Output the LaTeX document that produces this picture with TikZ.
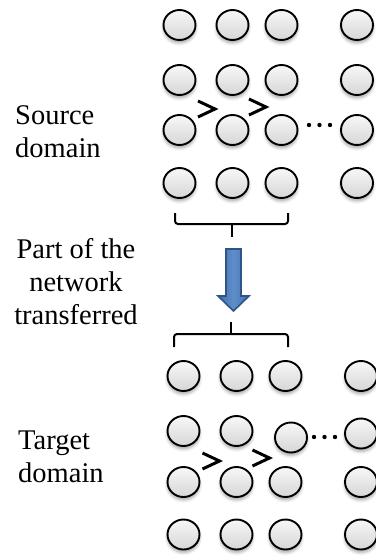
\documentclass[tikz,border=0pt]{standalone}
\usepackage{fontspec}
\setmainfont{Liberation Serif}
\usetikzlibrary{shapes.geometric,shadows.blur}

\definecolor{arrowfill}{HTML}{4270AC}
\definecolor{arrowlight}{HTML}{5F8FCB}
\definecolor{arrowline}{HTML}{2F5487}

\tikzset{
  unit/.style={ellipse, draw, line width=1.9pt, minimum width=32pt,
    minimum height=30pt, inner sep=0pt, top color=gray!6, bottom color=gray!32,
    blur shadow={shadow xshift=0pt, shadow yshift=-3pt,
      shadow blur radius=3pt, shadow opacity=35}},
  chev/.style={line width=3pt, miter limit=10},
  brak/.style={line width=2pt, rounded corners=3pt},
  domtext/.style={font=\fontsize{28.5}{33}\selectfont, inner sep=0pt}
}

\begin{document}
\begin{tikzpicture}[x=1pt,y=-1pt]
  \useasboundingbox (0,0) rectangle (375,556);

  % source network
  \foreach \c/\x in {1/179.5,2/232.5,3/281.5,4/357}
    \foreach \r/\y in {1/25,2/80,3/130,4/183}
      \node[unit] (s\r\c) at (\x,\y) {};

  % target network, second row is shifted
  \foreach \c/\x in {1/183.5,2/236.5,3/285.5,4/361}
    \foreach \r/\y in {1/376,3/482,4/534.5}
      \node[unit] (t\r\c) at (\x,\y) {};
  \node[unit] (t21) at (183.5,431) {};
  \node[unit] (t22) at (236.5,431) {};
  \node[unit] (t23) at (291,437.5) {};
  \node[unit] (t24) at (361,433.5) {};

  % chevrons and dots
  \foreach \p in {(206.5,109),(257.5,107),(211,461),(261,458)}
    \draw[chev] \p ++(-8.5,-8) -- ++(17,8) -- ++(-17,8);
  \foreach \x in {309,319.5,330}
    \fill (\x,125) circle (2.2);
  \foreach \x in {314,324.5,335}
    \fill (\x,437) circle (2.2);

  % brackets
  \draw[brak] (175,213) -- (175,224) -- (288,224) -- (288,213);
  \draw[brak] (231.5,224) -- (231.5,237);
  \draw[brak] (174,347) -- (174,334) -- (288,334) -- (288,347);
  \draw[brak] (230.5,334) -- (230.5,322);

  % block arrow
  \draw[arrowline, line width=1.6pt, left color=arrowfill,
    right color=arrowfill, middle color=arrowlight]
    (226,249) -- (241,249) -- (241,296) -- (249,296) -- (233.5,311)
    -- (218,296) -- (226,296) -- cycle;

  \node[domtext, anchor=west, align=left] (src) at (15,131.5) {Source\\domain};
  \node[domtext, align=center] (part) at (76,282) {Part of the\\network\\transferred};
  \node[domtext, anchor=west, align=left] (tgt) at (18,456.5) {Target\\domain};
\end{tikzpicture}
\end{document}
